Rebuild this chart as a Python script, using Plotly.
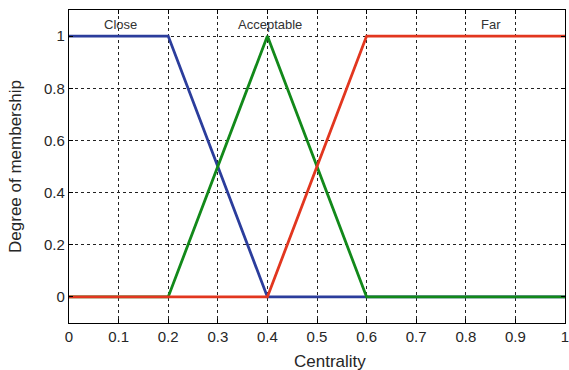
import plotly.graph_objects as go

# Membership functions for the "Centrality" input variable
x_close = [0, 0.2, 0.4, 1]
y_close = [1, 1, 0, 0]

x_accept = [0, 0.2, 0.4, 0.6, 1]
y_accept = [0, 0, 1, 0, 0]

x_far = [0, 0.4, 0.6, 1]
y_far = [0, 0, 1, 1]

mf_names = ["Close", "Acceptable", "Far"]
mf_label_x = [0.103, 0.405, 0.85]
mf_label_y = 1.046

x_ticks = [0, 0.1, 0.2, 0.3, 0.4, 0.5, 0.6, 0.7, 0.8, 0.9, 1]
x_tick_text = ["0", "0.1", "0.2", "0.3", "0.4", "0.5", "0.6", "0.7", "0.8", "0.9", "1"]
y_ticks = [0, 0.2, 0.4, 0.6, 0.8, 1]
y_tick_text = ["0", "0.2", "0.4", "0.6", "0.8", "1"]

fig = go.Figure()
fig.add_trace(go.Scatter(x=x_close, y=y_close, mode="lines",
                         line=dict(color="#2b3d9c", width=2.8)))
fig.add_trace(go.Scatter(x=x_accept, y=y_accept, mode="lines",
                         line=dict(color="#12891a", width=2.8)))
fig.add_trace(go.Scatter(x=x_far, y=y_far, mode="lines",
                         line=dict(color="#e2361f", width=2.8)))

for name, lx in zip(mf_names, mf_label_x):
    fig.add_annotation(x=lx, y=mf_label_y, text=name, showarrow=False,
                       font=dict(size=13, color="#333333"),
                       xanchor="center", yanchor="middle")

# x-axis title, placed slightly right of the plot centre
fig.add_annotation(x=0.526, xref="x", y=-0.123, yref="paper",
                   text="Centrality", showarrow=False,
                   font=dict(size=17, color="#262626"),
                   xanchor="center", yanchor="middle")

axis_common = dict(
    showline=True, linecolor="black", linewidth=1.4, mirror="ticks",
    showgrid=True, gridcolor="#222222", gridwidth=1, griddash="3px,3px",
    zeroline=False, ticks="inside", ticklen=4, tickcolor="black",
    tickfont=dict(size=15, color="#262626"),
    ticklabeloverflow="allow", automargin=False,
)

fig.update_layout(
    width=569, height=370,
    margin=dict(l=69, r=4, t=10, b=47),
    paper_bgcolor="white", plot_bgcolor="white",
    showlegend=False,
    font=dict(family="Liberation Sans, Arial, sans-serif", color="#262626"),
    xaxis=dict(range=[0, 1], tickvals=x_ticks, ticktext=x_tick_text,
               **axis_common),
    yaxis=dict(range=[-0.1, 1.1], tickvals=y_ticks, ticktext=y_tick_text,
               title=dict(text="Degree of membership", font=dict(size=17), standoff=17),
               **axis_common),
)

fig.write_html("out.html")
